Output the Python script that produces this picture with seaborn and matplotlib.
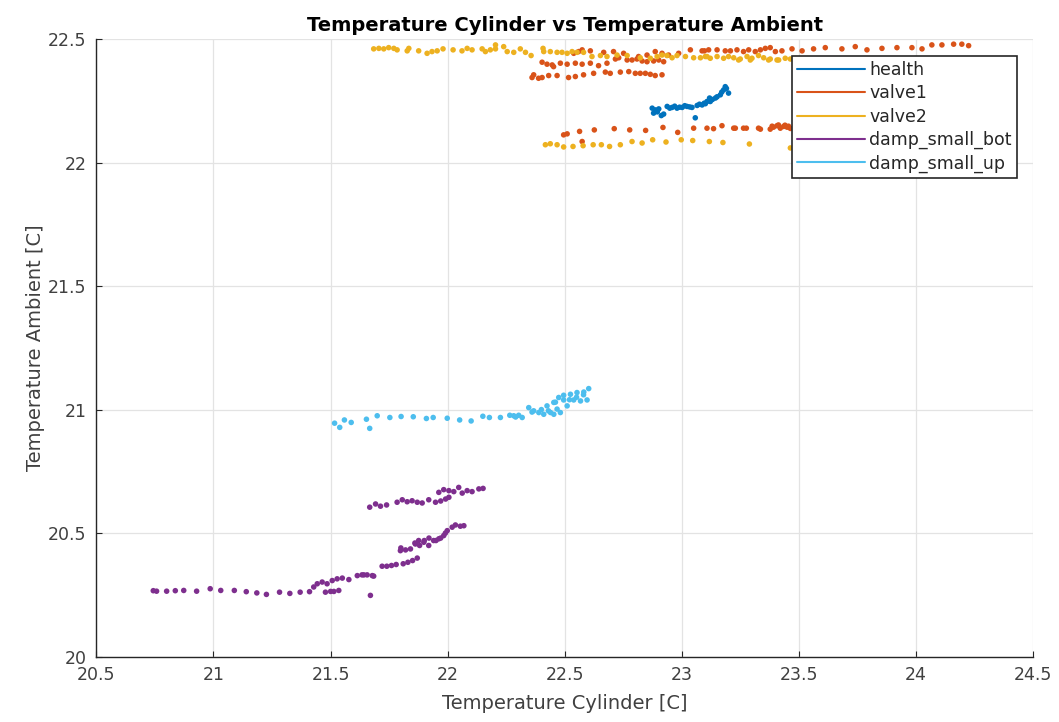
import numpy as np
import pandas as pd
import seaborn as sns
import matplotlib.pyplot as plt
from matplotlib.lines import Line2D

# series colours (MATLAB default order)
palette = {
    "health": "#0072BD",
    "valve1": "#D95319",
    "valve2": "#EDB120",
    "damp_small_bot": "#7E2F8E",
    "damp_small_up": "#4DBEEE",
}

# health
health_x = [22.873, 22.879, 22.887, 22.895, 22.901, 22.912, 22.922, 22.937, 22.948, 22.958,
            22.969, 22.979, 22.990, 23.001, 23.012, 23.022, 23.033, 23.043, 23.057, 23.065,
            23.075, 23.086, 23.095, 23.100, 23.107, 23.118, 23.121, 23.130, 23.143, 23.150,
            23.164, 23.170, 23.178, 23.185, 23.190, 23.199]
health_y = [22.220, 22.200, 22.213, 22.205, 22.217, 22.190, 22.196, 22.227, 22.220, 22.223,
            22.228, 22.220, 22.224, 22.223, 22.230, 22.227, 22.225, 22.223, 22.181, 22.231,
            22.236, 22.233, 22.240, 22.238, 22.247, 22.261, 22.247, 22.255, 22.261, 22.266,
            22.274, 22.285, 22.294, 22.307, 22.300, 22.281]

# valve1 (four runs)
valve1_x = [22.538, 22.559, 22.574, 22.609, 22.666, 22.708, 22.751, 22.815, 22.851, 22.886,
            22.915, 22.943, 22.986, 23.036, 23.086, 23.096, 23.114, 23.150, 23.185, 23.207,
            23.235, 23.263, 23.285, 23.313, 23.335, 23.356, 23.377, 23.399, 23.427, 23.470,
            23.513, 23.562, 23.612, 23.683, 23.740, 23.790, 23.854, 23.918, 23.982, 24.025,
            24.067, 24.110, 24.160, 24.195, 24.224,
            22.403, 22.424, 22.446, 22.452, 22.481, 22.510, 22.545, 22.574, 22.609, 22.644,
            22.680, 22.716, 22.730, 22.766, 22.787, 22.808, 22.830, 22.851, 22.879, 22.901,
            22.922,
            22.360, 22.367, 22.388, 22.403, 22.431, 22.467, 22.516, 22.545, 22.580, 22.623,
            22.673, 22.694, 22.737, 22.773, 22.801, 22.822, 22.844, 22.865, 22.886, 22.915,
            22.495, 22.510, 22.563, 22.574, 22.626, 22.711, 22.777, 22.845, 22.919, 22.982,
            23.050, 23.107, 23.135, 23.171, 23.221, 23.228, 23.263, 23.275, 23.327, 23.335,
            23.377, 23.391, 23.406, 23.420, 23.434, 23.449, 23.463, 23.385, 23.412, 23.440,
            23.455]
valve1_y = [22.442, 22.449, 22.456, 22.452, 22.446, 22.449, 22.442, 22.429, 22.435, 22.449,
            22.442, 22.435, 22.442, 22.456, 22.452, 22.452, 22.456, 22.456, 22.452, 22.452,
            22.456, 22.449, 22.456, 22.449, 22.456, 22.462, 22.465, 22.449, 22.452, 22.460,
            22.452, 22.460, 22.465, 22.460, 22.469, 22.456, 22.462, 22.465, 22.465, 22.460,
            22.476, 22.476, 22.479, 22.479, 22.473,
            22.406, 22.398, 22.395, 22.388, 22.402, 22.398, 22.402, 22.398, 22.402, 22.392,
            22.402, 22.419, 22.424, 22.415, 22.415, 22.419, 22.411, 22.408, 22.411, 22.415,
            22.408,
            22.344, 22.355, 22.341, 22.344, 22.352, 22.352, 22.344, 22.348, 22.355, 22.361,
            22.366, 22.361, 22.366, 22.368, 22.361, 22.361, 22.361, 22.357, 22.352, 22.355,
            22.112, 22.116, 22.126, 22.085, 22.132, 22.137, 22.132, 22.130, 22.142, 22.122,
            22.139, 22.139, 22.137, 22.149, 22.139, 22.139, 22.139, 22.139, 22.139, 22.135,
            22.135, 22.143, 22.149, 22.139, 22.146, 22.143, 22.138, 22.147, 22.152, 22.151,
            22.147]

# valve2 (two runs)
valve2_x = [21.684, 21.706, 21.727, 21.748, 21.770, 21.784, 21.827, 21.834, 21.876, 21.912,
            21.933, 21.955, 21.980, 22.023, 22.061, 22.083, 22.104, 22.147, 22.161, 22.182,
            22.204, 22.204, 22.239, 22.254, 22.282, 22.310, 22.332, 22.356, 22.407, 22.410,
            22.438, 22.467, 22.488, 22.510, 22.531, 22.552, 22.580, 22.616, 22.652, 22.680,
            22.723, 22.766, 22.822, 22.865, 22.894, 22.915, 22.936, 22.958, 22.979, 23.015,
            23.050, 23.079, 23.107, 23.100, 23.121, 23.150, 23.178, 23.199, 23.221, 23.249,
            23.278, 23.299, 23.327, 23.349, 23.377, 23.406, 23.441, 23.463, 23.242, 23.292,
            23.370, 23.413,
            22.417, 22.438, 22.467, 22.495, 22.535, 22.578, 22.621, 22.656, 22.691, 22.737,
            22.787, 22.830, 22.875, 22.932, 22.997, 23.046, 23.117, 23.175, 23.288, 23.463]
valve2_y = [22.460, 22.462, 22.460, 22.465, 22.462, 22.456, 22.452, 22.462, 22.452, 22.442,
            22.449, 22.452, 22.460, 22.456, 22.452, 22.462, 22.456, 22.460, 22.449, 22.456,
            22.476, 22.460, 22.469, 22.449, 22.446, 22.460, 22.446, 22.433, 22.462, 22.449,
            22.449, 22.446, 22.446, 22.442, 22.449, 22.446, 22.446, 22.429, 22.433, 22.429,
            22.435, 22.433, 22.424, 22.422, 22.429, 22.435, 22.433, 22.424, 22.433, 22.429,
            22.424, 22.424, 22.429, 22.429, 22.422, 22.429, 22.422, 22.429, 22.424, 22.419,
            22.429, 22.422, 22.433, 22.424, 22.419, 22.415, 22.422, 22.419, 22.415, 22.415,
            22.415, 22.415,
            22.072, 22.076, 22.072, 22.063, 22.065, 22.068, 22.072, 22.072, 22.065, 22.072,
            22.085, 22.079, 22.092, 22.083, 22.092, 22.089, 22.085, 22.081, 22.075, 22.059]

# damp_small_bot
bot_x = [20.743, 20.757, 20.800, 20.837, 20.873, 20.928, 20.986, 21.031, 21.089, 21.140,
         21.185, 21.226, 21.282, 21.326, 21.370, 21.410,
         21.428, 21.443, 21.464, 21.485, 21.507, 21.528, 21.550, 21.578, 21.614, 21.642,
         21.678, 21.478, 21.500, 21.514, 21.535, 21.670, 21.634, 21.656, 21.684,
         21.720, 21.740, 21.760, 21.780, 21.810, 21.830, 21.850, 21.870,
         21.798, 21.820, 21.841, 21.862, 21.876, 21.898, 21.919, 21.940, 21.962, 21.983,
         21.998, 22.019, 22.033, 22.054, 22.069, 21.800, 21.860, 21.880, 21.900, 21.920,
         21.950, 21.970, 21.990,
         21.667, 21.692, 21.713, 21.739, 21.784, 21.806, 21.827, 21.848, 21.870, 21.891,
         21.919, 21.948, 21.970, 21.991, 22.005, 21.962, 21.983, 22.005, 22.026, 22.047,
         22.062, 22.083, 22.104, 22.133, 22.151]
bot_y = [20.267, 20.265, 20.265, 20.267, 20.268, 20.265, 20.275, 20.268, 20.268, 20.263,
         20.258, 20.252, 20.261, 20.256, 20.261, 20.263,
         20.282, 20.295, 20.302, 20.295, 20.308, 20.315, 20.318, 20.312, 20.328, 20.331,
         20.328, 20.261, 20.264, 20.264, 20.268, 20.248, 20.331, 20.331, 20.326,
         20.366, 20.366, 20.369, 20.373, 20.376, 20.382, 20.389, 20.399,
         20.429, 20.432, 20.436, 20.456, 20.470, 20.463, 20.450, 20.470, 20.477, 20.490,
         20.510, 20.524, 20.533, 20.528, 20.530, 20.440, 20.460, 20.450, 20.470, 20.480,
         20.470, 20.480, 20.500,
         20.605, 20.618, 20.609, 20.614, 20.625, 20.635, 20.627, 20.631, 20.625, 20.622,
         20.635, 20.625, 20.630, 20.638, 20.645, 20.665, 20.676, 20.672, 20.668, 20.685,
         20.662, 20.672, 20.668, 20.679, 20.681]

# damp_small_up
up_x = [21.517, 21.539, 21.559, 21.588, 21.653, 21.667, 21.699, 21.753, 21.801, 21.853,
        21.909, 21.938, 21.998, 22.051, 22.100, 22.150, 22.178, 22.225, 22.265, 22.282,
        22.303, 22.318, 22.346, 22.367, 22.389, 22.410, 22.453, 22.481, 22.424, 22.453,
        22.474, 22.495, 22.524, 22.552, 22.581, 22.602, 22.495, 22.538, 22.567, 22.595,
        22.467, 22.439, 22.510, 22.360, 22.400, 22.520, 22.550, 22.580, 22.460, 22.290,
        22.430]
up_y = [20.945, 20.928, 20.958, 20.948, 20.961, 20.924, 20.975, 20.968, 20.972, 20.971,
        20.964, 20.968, 20.965, 20.958, 20.954, 20.973, 20.968, 20.968, 20.977, 20.975,
        20.977, 20.968, 21.008, 20.995, 20.988, 20.981, 20.981, 20.988, 21.015, 21.029,
        21.049, 21.058, 21.062, 21.069, 21.071, 21.085, 21.039, 21.039, 21.035, 21.039,
        21.002, 20.988, 21.015, 20.990, 21.000, 21.040, 21.050, 21.060, 21.030, 20.970,
        20.995]

series = [("health", health_x, health_y),
          ("valve1", valve1_x, valve1_y),
          ("valve2", valve2_x, valve2_y),
          ("damp_small_bot", bot_x, bot_y),
          ("damp_small_up", up_x, up_y)]

df = pd.concat(
    [pd.DataFrame({"cyl": x, "amb": y, "run": name}) for name, x, y in series],
    ignore_index=True,
)

sns.set_theme(style="ticks")
plt.rcParams["font.family"] = ["DejaVu Sans"]

fig, ax = plt.subplots(figsize=(10.59, 7.22), dpi=100)
fig.subplots_adjust(left=0.091, right=0.9757, top=0.946, bottom=0.0905)

sns.scatterplot(data=df, x="cyl", y="amb", hue="run", palette=palette,
                s=16, linewidth=0, legend=False, ax=ax, zorder=3)

ax.set_xlim(20.5, 24.5)
ax.set_ylim(20, 22.5)
ax.set_xticks(np.arange(20.5, 24.51, 0.5))
ax.set_yticks(np.arange(20, 22.51, 0.5))
ax.set_xticklabels(["20.5", "21", "21.5", "22", "22.5", "23", "23.5", "24", "24.5"])
ax.set_yticklabels(["20", "20.5", "21", "21.5", "22", "22.5"])

ax.grid(True, color="#e3e3e3", linewidth=0.9, zorder=0)
ax.set_axisbelow(True)
sns.despine(ax=ax)
for side in ["left", "bottom"]:
    ax.spines[side].set_color("#262626")
    ax.spines[side].set_linewidth(1.0)
ax.tick_params(direction="in", length=4, width=0.8, colors="#262626",
               labelcolor="#404040", labelsize=12.5, pad=7)

ax.set_xlabel("Temperature Cylinder [C]", fontsize=14, color="#404040", labelpad=7)
ax.set_ylabel("Temperature Ambient [C]", fontsize=14, color="#404040", labelpad=2)
ax.set_title("Temperature Cylinder vs Temperature Ambient", fontsize=14,
             fontweight="bold", color="black", pad=6)

handles = [Line2D([0], [0], color=palette[name], lw=1.5) for name, _, _ in series]
leg = ax.legend(handles, [name for name, _, _ in series], loc="upper right",
                bbox_to_anchor=(0.9826, 0.9725), borderaxespad=0, fontsize=12.5,
                handlelength=3.9, handletextpad=0.25, labelspacing=0.3,
                borderpad=0.3, fancybox=False, framealpha=1)
leg.get_frame().set_edgecolor("#262626")
leg.get_frame().set_linewidth(1.2)
leg.set_zorder(5)

fig.savefig("out.png", dpi=100)
